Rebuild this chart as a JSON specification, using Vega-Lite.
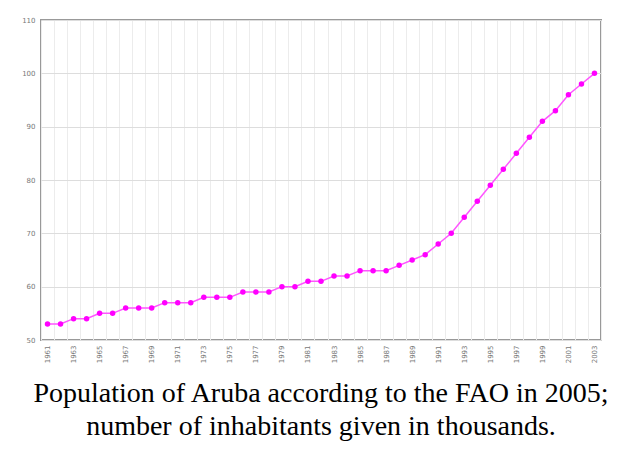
{
  "$schema": "https://vega.github.io/schema/vega-lite/v6.json",
  "width": 560,
  "height": 320,
  "autosize": {"type": "none"},
  "padding": {"left": 41, "top": 20, "right": 19, "bottom": 109},
  "background": "white",
  "title": {
    "text": ["Population of Aruba according to the FAO in 2005;", "number of inhabitants given in thousands."],
    "orient": "bottom",
    "anchor": "middle",
    "font": "Liberation Serif",
    "fontSize": 28,
    "fontWeight": "normal",
    "color": "#000000",
    "lineHeight": 33,
    "offset": 17
  },
  "data": {
    "values": [
      {"year": 1961, "pop": 53}, {"year": 1962, "pop": 53}, {"year": 1963, "pop": 54},
      {"year": 1964, "pop": 54}, {"year": 1965, "pop": 55}, {"year": 1966, "pop": 55},
      {"year": 1967, "pop": 56}, {"year": 1968, "pop": 56}, {"year": 1969, "pop": 56},
      {"year": 1970, "pop": 57}, {"year": 1971, "pop": 57}, {"year": 1972, "pop": 57},
      {"year": 1973, "pop": 58}, {"year": 1974, "pop": 58}, {"year": 1975, "pop": 58},
      {"year": 1976, "pop": 59}, {"year": 1977, "pop": 59}, {"year": 1978, "pop": 59},
      {"year": 1979, "pop": 60}, {"year": 1980, "pop": 60}, {"year": 1981, "pop": 61},
      {"year": 1982, "pop": 61}, {"year": 1983, "pop": 62}, {"year": 1984, "pop": 62},
      {"year": 1985, "pop": 63}, {"year": 1986, "pop": 63}, {"year": 1987, "pop": 63},
      {"year": 1988, "pop": 64}, {"year": 1989, "pop": 65}, {"year": 1990, "pop": 66},
      {"year": 1991, "pop": 68}, {"year": 1992, "pop": 70}, {"year": 1993, "pop": 73},
      {"year": 1994, "pop": 76}, {"year": 1995, "pop": 79}, {"year": 1996, "pop": 82},
      {"year": 1997, "pop": 85}, {"year": 1998, "pop": 88}, {"year": 1999, "pop": 91},
      {"year": 2000, "pop": 93}, {"year": 2001, "pop": 96}, {"year": 2002, "pop": 98},
      {"year": 2003, "pop": 100}
    ]
  },
  "encoding": {
    "x": {
      "field": "year",
      "type": "ordinal",
      "bandPosition": 0.5,
      "scale": {"type": "band", "paddingInner": 0, "paddingOuter": 0},
      "axis": {
        "title": null,
        "tickBand": "extent",
        "grid": true,
        "gridColor": "#ececec",
        "gridWidth": 1,
        "ticks": false,
        "domain": false,
        "labelAngle": -90,
        "labelAlign": "right",
        "labelBaseline": "middle",
        "labelFont": "DejaVu Sans",
        "labelFontSize": 7,
        "labelColor": "#777777",
        "labelPadding": 5,
        "labelExpr": "datum.value % 2 == 1 ? datum.label : ''"
      }
    },
    "y": {
      "field": "pop",
      "type": "quantitative",
      "scale": {"domain": [50, 110], "nice": false, "zero": false},
      "axis": {
        "title": null,
        "values": [50, 60, 70, 80, 90, 100, 110],
        "grid": true,
        "gridColor": "#dddddd",
        "ticks": false,
        "domain": false,
        "labelFont": "DejaVu Sans",
        "labelFontSize": 7,
        "labelColor": "#777777",
        "labelPadding": 6
      }
    }
  },
  "layer": [
    {"mark": {"type": "line", "color": "#ff55ff", "strokeWidth": 1.5}},
    {"mark": {"type": "point", "filled": true, "color": "#ff00ff", "size": 30, "opacity": 1}}
  ],
  "config": {
    "view": {"stroke": "#999999", "strokeWidth": 2}
  }
}
